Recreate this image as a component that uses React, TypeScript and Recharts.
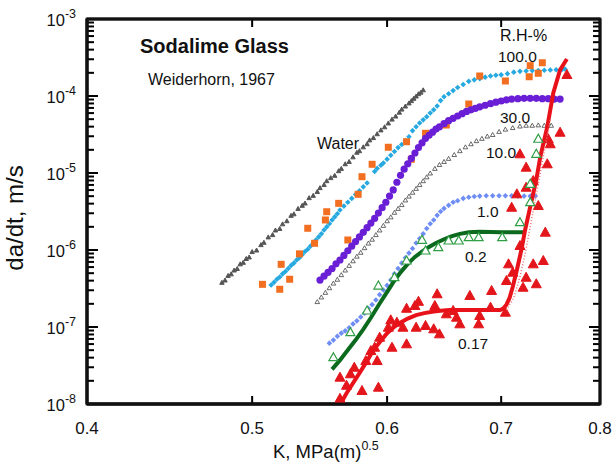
import React from 'react';
import { ComposedChart, Scatter, XAxis, YAxis, ReferenceLine } from 'recharts';

// Each point: [K in MPa·m^0.5, log10(da/dt in m/s)]
type P = [number, number];

const xTicks = [0.4, 0.5, 0.6, 0.7, 0.8];
const xTickLabels = ['0.4', '0.5', '0.6', '0.7', '0.8'];
const xInnerTicks = [0.5, 0.6, 0.7];
const yMajor = [-8, -7, -6, -5, -4, -3];
const yTickSup = ['-8', '-7', '-6', '-5', '-4', '-3'];
const yMinorFactors = [2, 3, 4, 5, 6, 7, 8, 9];
const frameX = [0.4, 0.8];
const frameY = [-8, -3];

const water: P[] = [
  [0.480, -6.42], [0.482, -6.39], [0.484, -6.33], [0.486, -6.31], [0.488, -6.26], [0.490, -6.24],
  [0.492, -6.18], [0.494, -6.16], [0.496, -6.11], [0.498, -6.09], [0.500, -6.02], [0.503, -6.00],
  [0.506, -5.93], [0.508, -5.90], [0.511, -5.83], [0.514, -5.80], [0.516, -5.74], [0.519, -5.72],
  [0.521, -5.66], [0.524, -5.62], [0.527, -5.55], [0.529, -5.53], [0.532, -5.46], [0.535, -5.42],
  [0.537, -5.39], [0.540, -5.32], [0.543, -5.29], [0.546, -5.24], [0.548, -5.19], [0.551, -5.15],
  [0.553, -5.10], [0.556, -5.06], [0.559, -5.03], [0.562, -4.97], [0.564, -4.94], [0.567, -4.88],
  [0.570, -4.85], [0.573, -4.79], [0.576, -4.73], [0.578, -4.71], [0.581, -4.66], [0.584, -4.62],
  [0.586, -4.57], [0.589, -4.54], [0.592, -4.49], [0.595, -4.44], [0.598, -4.40], [0.601, -4.35],
  [0.604, -4.30], [0.607, -4.26], [0.610, -4.21], [0.612, -4.17], [0.615, -4.13], [0.618, -4.09],
  [0.620, -4.06], [0.622, -4.03], [0.624, -4.00], [0.626, -3.97], [0.628, -3.95], [0.630, -3.92],
];

const rh100: P[] = [
  [0.513, -6.455], [0.515, -6.42], [0.517, -6.38], [0.519, -6.35], [0.521, -6.31], [0.523, -6.28],
  [0.525, -6.24], [0.527, -6.20], [0.529, -6.17], [0.531, -6.13], [0.533, -6.10], [0.535, -6.06],
  [0.537, -6.02], [0.539, -5.99], [0.541, -5.95], [0.543, -5.91], [0.545, -5.87], [0.547, -5.83],
  [0.549, -5.79], [0.551, -5.74], [0.553, -5.70], [0.555, -5.66], [0.557, -5.61], [0.559, -5.57],
  [0.561, -5.53], [0.563, -5.48], [0.566, -5.43], [0.569, -5.38], [0.572, -5.33], [0.575, -5.28],
  [0.578, -5.23], [0.581, -5.18], [0.584, -5.13], [0.590, -4.98], [0.592, -4.94], [0.595, -4.90],
  [0.597, -4.87], [0.600, -4.82], [0.603, -4.77], [0.606, -4.72], [0.609, -4.67], [0.612, -4.63],
  [0.615, -4.58], [0.618, -4.53], [0.621, -4.45], [0.624, -4.40], [0.627, -4.35], [0.630, -4.31],
  [0.633, -4.27], [0.636, -4.22], [0.639, -4.18], [0.642, -4.13], [0.645, -4.06], [0.648, -4.01],
  [0.652, -3.97], [0.656, -3.93], [0.660, -3.89], [0.665, -3.85], [0.670, -3.81], [0.675, -3.79],
  [0.680, -3.775], [0.685, -3.755], [0.690, -3.74], [0.695, -3.73], [0.700, -3.725], [0.706, -3.71],
  [0.712, -3.69], [0.718, -3.68], [0.724, -3.675], [0.730, -3.67], [0.736, -3.668], [0.742, -3.665],
  [0.748, -3.662], [0.754, -3.66], [0.760, -3.655], [0.763, -3.65],
];

const rh100Squares: P[] = [
  [0.507, -6.446], [0.519, -6.51], [0.526, -6.38], [0.520, -6.186], [0.533, -6.05], [0.539, -5.718],
  [0.544, -5.913], [0.553, -5.503], [0.552, -5.61], [0.562, -5.394], [0.569, -5.87], [0.577, -5.277],
  [0.580, -5.048], [0.588, -4.887], [0.601, -4.666], [0.616, -4.594], [0.620, -4.822], [0.632, -4.484],
  [0.650, -4.377], [0.670, -4.104], [0.680, -3.74], [0.704, -3.805], [0.727, -3.75], [0.728, -3.606],
  [0.736, -3.705], [0.740, -3.568],
];

const rh30: P[] = [
  [0.548, -6.39], [0.551, -6.34], [0.554, -6.29], [0.557, -6.24], [0.560, -6.18], [0.563, -6.13],
  [0.566, -6.07], [0.569, -6.01], [0.572, -5.95], [0.575, -5.89], [0.578, -5.83], [0.581, -5.77],
  [0.584, -5.71], [0.587, -5.65], [0.590, -5.59], [0.593, -5.52], [0.596, -5.45], [0.599, -5.38],
  [0.602, -5.30], [0.605, -5.22], [0.608, -5.12], [0.611, -5.03], [0.614, -4.95], [0.617, -4.88],
  [0.620, -4.81], [0.623, -4.74], [0.626, -4.67], [0.629, -4.61], [0.632, -4.55], [0.635, -4.51],
  [0.638, -4.47], [0.641, -4.43], [0.644, -4.40], [0.648, -4.36], [0.652, -4.32], [0.656, -4.29],
  [0.660, -4.26], [0.664, -4.23], [0.668, -4.20], [0.672, -4.18], [0.676, -4.16], [0.680, -4.14],
  [0.685, -4.12], [0.690, -4.10], [0.695, -4.08], [0.700, -4.065], [0.705, -4.05], [0.710, -4.04],
  [0.716, -4.035], [0.722, -4.03], [0.728, -4.03], [0.734, -4.03], [0.740, -4.035], [0.746, -4.035],
  [0.752, -4.04], [0.758, -4.04],
];

const rh10: P[] = [
  [0.546, -6.67], [0.549, -6.61], [0.552, -6.55], [0.555, -6.49], [0.558, -6.43], [0.561, -6.38],
  [0.564, -6.32], [0.567, -6.26], [0.570, -6.20], [0.573, -6.14], [0.576, -6.08], [0.579, -6.03],
  [0.582, -5.97], [0.585, -5.91], [0.588, -5.86], [0.591, -5.80], [0.594, -5.74], [0.597, -5.68],
  [0.600, -5.62], [0.603, -5.57], [0.606, -5.51], [0.609, -5.46], [0.612, -5.41], [0.615, -5.35],
  [0.618, -5.30], [0.621, -5.25], [0.624, -5.20], [0.627, -5.15], [0.630, -5.10], [0.633, -5.05],
  [0.636, -5.00], [0.640, -4.94], [0.644, -4.89], [0.648, -4.85], [0.652, -4.81], [0.657, -4.76],
  [0.662, -4.71], [0.667, -4.66], [0.672, -4.62], [0.677, -4.58], [0.682, -4.55], [0.687, -4.52],
  [0.692, -4.50], [0.698, -4.46], [0.704, -4.43], [0.711, -4.41], [0.718, -4.39], [0.724, -4.38],
  [0.730, -4.38], [0.736, -4.375], [0.742, -4.38], [0.749, -4.38],
];

const rh1: P[] = [
  [0.555, -7.21], [0.558, -7.17], [0.561, -7.12], [0.564, -7.08], [0.567, -7.05], [0.570, -7.01],
  [0.573, -6.96], [0.576, -6.92], [0.579, -6.87], [0.582, -6.82], [0.585, -6.76], [0.588, -6.71],
  [0.591, -6.65], [0.594, -6.58], [0.597, -6.52], [0.600, -6.46], [0.603, -6.39], [0.606, -6.31],
  [0.609, -6.24], [0.612, -6.17], [0.615, -6.10], [0.618, -6.04], [0.621, -5.98], [0.624, -5.91],
  [0.627, -5.85], [0.630, -5.79], [0.633, -5.72], [0.636, -5.66], [0.639, -5.61], [0.642, -5.55],
  [0.645, -5.50], [0.648, -5.46], [0.652, -5.42], [0.656, -5.38], [0.660, -5.36], [0.665, -5.33],
  [0.670, -5.315], [0.675, -5.305], [0.680, -5.30], [0.686, -5.295], [0.692, -5.295], [0.698, -5.295],
  [0.704, -5.295], [0.710, -5.297], [0.716, -5.298], [0.722, -5.30], [0.728, -5.30], [0.733, -5.30],
];

const rh02Fit: P[] = [
  [0.557, -7.55], [0.563, -7.43], [0.569, -7.30], [0.575, -7.17], [0.581, -7.03], [0.587, -6.88],
  [0.593, -6.72], [0.599, -6.57], [0.605, -6.42], [0.611, -6.29], [0.617, -6.18], [0.623, -6.09],
  [0.629, -6.02], [0.635, -5.96], [0.641, -5.91], [0.648, -5.86], [0.655, -5.82], [0.662, -5.79],
  [0.670, -5.77], [0.680, -5.762], [0.690, -5.765], [0.700, -5.77], [0.710, -5.77], [0.721, -5.77],
];

const rh02Data: P[] = [
  [0.558, -7.386], [0.571, -7.061], [0.584, -6.779], [0.593, -6.455], [0.606, -6.347], [0.616, -6.13],
  [0.629, -5.861], [0.632, -6.0], [0.643, -5.957], [0.652, -5.87], [0.661, -5.87], [0.670, -5.827],
  [0.679, -5.827], [0.701, -5.827], [0.718, -5.632], [0.728, -5.373], [0.728, -5.134], [0.734, -4.744],
  [0.736, -4.549],
];

const rh017Fit: P[] = [
  [0.565, -7.95], [0.568, -7.86], [0.573, -7.73], [0.578, -7.60], [0.584, -7.44], [0.589, -7.30],
  [0.595, -7.18], [0.600, -7.08], [0.605, -7.01], [0.610, -6.95], [0.617, -6.89], [0.624, -6.845],
  [0.631, -6.82], [0.639, -6.80], [0.645, -6.79], [0.653, -6.78], [0.660, -6.78], [0.674, -6.78],
  [0.687, -6.78], [0.699, -6.78], [0.702, -6.76], [0.705, -6.71], [0.708, -6.62], [0.711, -6.48],
  [0.715, -6.26], [0.720, -5.96], [0.723, -5.74], [0.728, -5.44], [0.734, -5.09], [0.738, -4.79],
  [0.745, -4.40], [0.751, -3.965], [0.758, -3.66], [0.765, -3.52],
];

const rh017Dotted: P[] = [
  [0.705, -6.78], [0.712, -6.62], [0.718, -6.35], [0.723, -6.05], [0.728, -5.70], [0.733, -5.35],
  [0.738, -5.00], [0.743, -4.65], [0.748, -4.30],
];

const rh017Data: P[] = [
  [0.563, -7.92], [0.563, -7.645], [0.568, -7.75], [0.571, -7.601], [0.574, -7.516], [0.580, -7.818],
  [0.583, -7.429], [0.587, -7.299], [0.590, -7.256], [0.592, -7.429], [0.594, -7.126], [0.593, -7.775],
  [0.601, -6.996], [0.603, -6.90], [0.604, -7.256], [0.608, -6.931], [0.613, -6.996], [0.616, -7.212],
  [0.616, -6.75], [0.623, -6.714], [0.624, -6.996], [0.626, -6.66], [0.632, -6.974], [0.639, -7.017],
  [0.640, -6.714], [0.642, -6.562], [0.644, -7.082], [0.650, -6.822], [0.656, -6.779], [0.659, -6.866],
  [0.662, -6.952], [0.671, -6.584], [0.679, -6.952], [0.680, -6.844], [0.690, -6.736], [0.691, -6.519],
  [0.704, -6.801], [0.705, -6.39], [0.707, -6.173], [0.710, -5.438], [0.711, -6.282], [0.718, -5.935],
  [0.721, -6.477], [0.724, -6.347], [0.731, -6.173], [0.734, -6.432], [0.741, -6.13], [0.743, -5.762],
  [0.736, -5.416], [0.724, -5.178], [0.715, -5.264], [0.718, -4.744], [0.724, -4.918], [0.731, -5.091],
  [0.746, -4.549], [0.745, -4.874], [0.758, -4.464], [0.748, -4.614], [0.765, -3.714],
];

const FONT = '"Liberation Sans", Arial, Helvetica, sans-serif';
const INK = '#111';

const CHART_W = 613;
const CHART_H = 476;
const MARGIN = { top: 19, right: 13, bottom: 22, left: 7 };
const Y_AXIS_W = 80;
const X_AXIS_H = 50;
const PLOT_X = MARGIN.left + Y_AXIS_W;
const PLOT_Y = MARGIN.top;
const PLOT_W = CHART_W - MARGIN.left - MARGIN.right - Y_AXIS_W;
const PLOT_H = CHART_H - MARGIN.top - MARGIN.bottom - X_AXIS_H;

const toObj = (a: P[]) => a.map(([k, lv]) => ({ k, lv }));
const yAllTicks: number[] = [];
yMajor.forEach((m, i) => {
  yAllTicks.push(m);
  if (i < yMajor.length - 1) yMinorFactors.forEach((f) => yAllTicks.push(m + Math.log10(f)));
});

const isMajor = (v: number) => Math.abs(v - Math.round(v)) < 1e-6;

const LeftTick = (props: any) => {
  const x = Number(props.x);
  const y = Number(props.y);
  const v = Number(props.payload && props.payload.value);
  const major = isMajor(v);
  const len = major ? 11 : 7;
  const idx = yMajor.indexOf(Math.round(v));
  const xr = x + PLOT_W;
  return (
    <g>
      <line x1={x} x2={x + len} y1={y} y2={y} stroke="#000" strokeWidth={2} />
      <line x1={xr} x2={xr - len} y1={y} y2={y} stroke="#000" strokeWidth={2} />
      {major && (
        <text x={x - 11} y={y + 7} textAnchor="end" fontSize={16.5} fill={INK} stroke="none" fontFamily={FONT}>
          10<tspan dy={-8} fontSize={12.5}>{yTickSup[idx]}</tspan>
        </text>
      )}
    </g>
  );
};

const BottomTick = (props: any) => {
  const x = Number(props.x);
  const y = Number(props.y);
  const val = Number(props.payload && props.payload.value);
  const idx = xTicks.indexOf(val);
  const inner = xInnerTicks.includes(val);
  const yt = y - PLOT_H;
  return (
    <g>
      {inner && <line x1={x} x2={x} y1={y} y2={y - 8} stroke="#000" strokeWidth={2} />}
      {inner && <line x1={x} x2={x} y1={yt} y2={yt + 8} stroke="#000" strokeWidth={2} />}
      <text x={x} y={y + 30} textAnchor="middle" fontSize={17} fill={INK} stroke="none" fontFamily={FONT}>
        {xTickLabels[idx]}
      </text>
    </g>
  );
};

const tri = (fill: string, stroke: string, hw: number, h: number, sw = 1) => (p: any) => {
  const { cx, cy } = p;
  if (cx == null || cy == null) return <g />;
  return (
    <polygon
      points={`${cx - hw},${cy + h / 2} ${cx + hw},${cy + h / 2} ${cx},${cy - h / 2}`}
      fill={fill}
      stroke={stroke}
      strokeWidth={sw}
    />
  );
};
const diamond = (fill: string, r: number) => (p: any) => {
  const { cx, cy } = p;
  if (cx == null || cy == null) return <g />;
  return <polygon points={`${cx},${cy - r} ${cx + r},${cy} ${cx},${cy + r} ${cx - r},${cy}`} fill={fill} />;
};
const square = (fill: string, s: number) => (p: any) => {
  const { cx, cy } = p;
  if (cx == null || cy == null) return <g />;
  return <rect x={cx - s / 2} y={cy - s / 2} width={s} height={s} fill={fill} />;
};
const circle = (fill: string, r: number) => (p: any) => {
  const { cx, cy } = p;
  if (cx == null || cy == null) return <g />;
  return <circle cx={cx} cy={cy} r={r} fill={fill} />;
};
const none = () => <g />;

const axisLine = { stroke: INK, strokeWidth: 2.8 };

export default function App() {
  const common = { xAxisId: 'b', yAxisId: 'l', isAnimationActive: false } as const;
  return (
    <div style={{ position: 'absolute', left: 0, top: 0, width: CHART_W, height: CHART_H, background: '#fff' }}>
      <ComposedChart width={CHART_W} height={CHART_H} margin={MARGIN}>
        <XAxis
          xAxisId="b" dataKey="k" type="number" scale="log" domain={[0.4, 0.8]} ticks={xTicks}
          allowDataOverflow interval={0} height={X_AXIS_H} tickSize={0} tickMargin={0}
          axisLine={axisLine} tickLine={false} tick={<BottomTick />}
        />
        <YAxis
          yAxisId="l" dataKey="lv" type="number" domain={[-8, -3]} ticks={yAllTicks} allowDataOverflow
          interval={0} width={Y_AXIS_W} tickSize={0} tickMargin={0} axisLine={axisLine} tickLine={false}
          tick={<LeftTick />}
        />

        <Scatter {...common} data={toObj(water)} shape={tri('#555', '#555', 2.2, 4)} />
        <Scatter {...common} data={toObj(rh100)} shape={diamond('#25a9e0', 2.8)} />
        <Scatter {...common} data={toObj(rh100Squares)} shape={square('#f26f21', 7)} />
        <Scatter {...common} data={toObj(rh30)} shape={circle('#6a1fd6', 3.6)} />
        <Scatter {...common} data={toObj(rh10)} shape={tri('#fff', '#444', 2.3, 4, 0.8)} />
        <Scatter {...common} data={toObj(rh1)} shape={diamond('#6f8ef5', 2.8)} />
        <Scatter {...common} data={toObj(rh02Fit)} shape={none} line={{ stroke: '#0b6a1d', strokeWidth: 4 }} lineType="joint" />
        <Scatter {...common} data={toObj(rh017Data)} shape={tri('#e3161b', '#e3161b', 5, 9)} />
        <Scatter {...common} data={toObj(rh017Fit)} shape={none} line={{ stroke: '#e8121b', strokeWidth: 4 }} lineType="joint" />
        <Scatter {...common} data={toObj(rh017Dotted)} shape={none} line={{ stroke: '#f07070', strokeWidth: 1.5, strokeDasharray: '1 2' }} lineType="joint" />
        <Scatter {...common} data={toObj(rh02Data)} shape={tri('#fff', '#2f9e44', 4.5, 8, 1.2)} />

        {frameX.map((fx) => (
          <ReferenceLine key={`fx${fx}`} xAxisId="b" yAxisId="l" x={fx} stroke={INK} strokeWidth={2.8} ifOverflow="visible" />
        ))}
        {frameY.map((fy) => (
          <ReferenceLine key={`fy${fy}`} xAxisId="b" yAxisId="l" y={fy} stroke={INK} strokeWidth={2.8} ifOverflow="visible" />
        ))}
      </ComposedChart>

      <svg width={CHART_W} height={CHART_H} style={{ position: 'absolute', left: 0, top: 0, pointerEvents: 'none' }} fontFamily={FONT}>
        {/* plot frame (layout box of the chart's plot area) */}
        <rect x={PLOT_X} y={PLOT_Y} width={PLOT_W} height={PLOT_H} fill="none" stroke={INK} strokeWidth={2.8} />
        <text x={140} y={53} fontSize={20} fontWeight="bold" fill={INK}>Sodalime Glass</text>
        <text x={148} y={84.5} fontSize={16} fill={INK}>Weiderhorn, 1967</text>
        <text x={317} y={148.5} fontSize={16} fill={INK}>Water</text>
        <text x={500} y={41} fontSize={16} fill={INK}>R.H-%</text>
        <text x={498} y={61.5} fontSize={15.5} fill={INK}>100.0</text>
        <text x={500} y={122.5} fontSize={15.5} fill={INK}>30.0</text>
        <text x={486} y={158} fontSize={15.5} fill={INK}>10.0</text>
        <text x={477} y={217} fontSize={15.5} fill={INK}>1.0</text>
        <text x={465} y={262} fontSize={15.5} fill={INK}>0.2</text>
        <text x={458} y={349} fontSize={15.5} fill={INK}>0.17</text>
        <text x={273} y={458} fontSize={18.5} fill={INK}>
          K, MPa(m)<tspan dy={-8} fontSize={12.5}>0.5</tspan>
        </text>
        <text x={23} y={218} fontSize={24} fill={INK} textAnchor="middle" transform="rotate(-90 23 218)">
          da/dt, m/s
        </text>
      </svg>
    </div>
  );
}
